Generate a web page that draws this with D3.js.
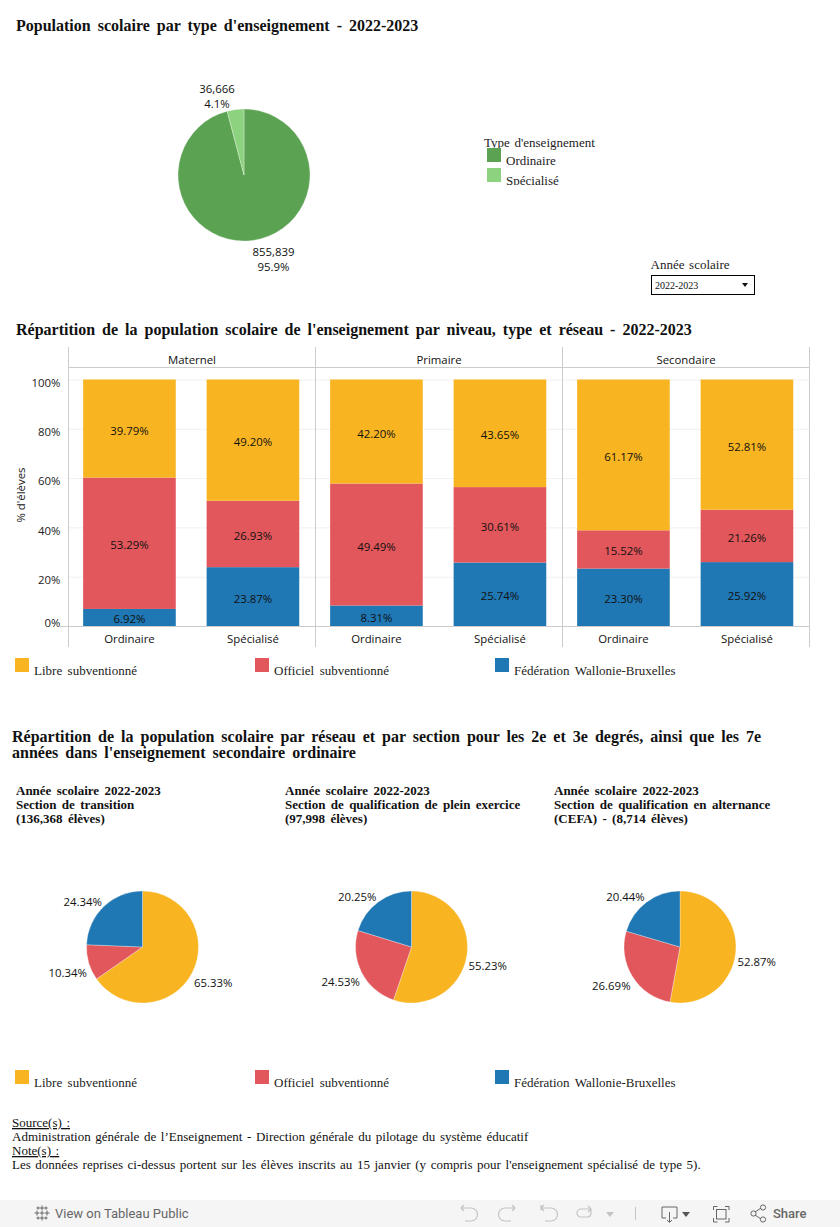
<!DOCTYPE html>
<html lang="fr">
<head>
  <meta charset="UTF-8">
  <title>Population scolaire par type d'enseignement - 2022-2023</title>
  <script src="https://d3js.org/d3.v7.min.js"></script>
  <style>
    html, body { margin: 0; padding: 0; background: #fff; overflow: hidden; }
    svg { display: block; }
    text { font-family: "Liberation Serif", serif; fill: #111; }
    .title { font-weight: bold; font-size: 16px; word-spacing: 3px; }
    .subtitle { font-weight: bold; font-size: 13px; word-spacing: 2.1px; }
    .legend { font-size: 13px; word-spacing: 2.2px; fill: #222; }
    .foot { font-size: 13px; word-spacing: 1.35px; }
    .sans { font-family: "Open Sans", sans-serif; font-size: 11.4px; fill: #111; }
    .bar-axis .domain { display: none; }
    .bar-axis line { stroke: #f0f0f0; }
    .bar-axis text { font-family: "Open Sans", sans-serif; font-size: 11.4px; fill: #222; }
    .tool { font-family: Roboto, sans-serif; font-size: 13px; fill: #666; }
    .icon { fill: none; stroke: #666; stroke-width: 1; }
    .icon-off { fill: none; stroke: #c4c4c4; stroke-width: 1.2; }
  </style>
</head>
<body>
<div id="chart"></div>

<script>
  // Donnees
  const typeLabels = ["Ordinaire", "Spécialisé"];
  const typeCounts = [855839, 36666];
  const typeShares = ["95.9%", "4.1%"];

  const levels = ["Maternel", "Primaire", "Secondaire"];
  const networks = ["Libre subventionné", "Officiel subventionné", "Fédération Wallonie-Bruxelles"];
  const libreValues = [39.79, 49.20, 42.20, 43.65, 61.17, 52.81];
  const officielValues = [53.29, 26.93, 49.49, 30.61, 15.52, 21.26];
  const federationValues = [6.92, 23.87, 8.31, 25.74, 23.30, 25.92];
  const yTicks = [0, 20, 40, 60, 80, 100];

  const sectionHeads = [
    ["Année scolaire 2022-2023", "Section de transition", "(136,368 élèves)"],
    ["Année scolaire 2022-2023", "Section de qualification de plein exercice", "(97,998 élèves)"],
    ["Année scolaire 2022-2023", "Section de qualification en alternance", "(CEFA) - (8,714 élèves)"]
  ];
  const transitionValues = [65.33, 10.34, 24.34];
  const pleinExerciceValues = [55.23, 24.53, 20.25];
  const alternanceValues = [52.87, 26.69, 20.44];

  const typeColors = ["#5ba352", "#8dd27e"];
  const networkColors = ["#f9b521", "#e1575b", "#1f77b4"];

  const svg = d3.select("#chart").append("svg").attr("width", 840).attr("height", 1227);

  function lines(rows, x, y, step, cls) {
    svg.append("g").selectAll("text").data(rows).enter().append("text")
       .attr("class", cls).attr("x", x).attr("y", (d, i) => y + i * step).text(d => d);
  }

  function swatchLegend(names, colors, xs, swatchY, textY) {
    const g = svg.append("g").selectAll("g").data(names).enter().append("g");
    g.append("rect").attr("x", (d, i) => xs[i]).attr("y", swatchY).attr("width", 14).attr("height", 14)
     .attr("fill", (d, i) => colors[i]);
    g.append("text").attr("class", "legend").attr("x", (d, i) => xs[i] + 19).attr("y", textY).text(d => d);
  }

  // Camembert avec depart a midi, sens horaire
  function drawPie(values, colors, cx, cy, r, labels, near, far, left) {
    const pie = d3.pie().sort(null).value(d => d)(values);
    const arc = d3.arc().innerRadius(0).outerRadius(r);
    const g = svg.append("g").attr("transform", `translate(${cx},${cy})`);
    g.selectAll("path").data(pie).enter().append("path")
     .attr("d", arc).attr("fill", (d, i) => colors[i])
     .attr("stroke", "#fff").attr("stroke-opacity", 0.5).attr("stroke-width", 0.6);

    g.selectAll("text").data(pie).enter().append("text")
     .attr("class", "sans")
     .attr("text-anchor", "middle")
     .attr("transform", d => {
       const a = (d.startAngle + d.endAngle) / 2;
       const px = r * Math.sin(a) + (Math.sin(a) < 0 ? -left : 21);
       const py = -r * Math.cos(a) + (Math.cos(a) < 0 ? near : far);
       return `translate(${px},${py})`;
     })
     .each(function(d, i) {
       const rows = labels[i];
       d3.select(this).selectAll("tspan").data(rows).enter().append("tspan")
         .attr("x", 0)
         .attr("y", (t, k) => (k - (rows.length - 1) / 2) * 15.3 + 4)
         .text(t => t);
     });
  }

  // ---- Section 1 : type d'enseignement
  lines(["Population scolaire par type d'enseignement - 2022-2023"], 16, 31, 0, "title");
  drawPie(typeCounts, typeColors, 244, 175, 66,
          typeCounts.map((d, i) => [d3.format(",")(d), typeShares[i]]), 19, -13, 18.5);

  svg.append("text").attr("class", "legend").attr("x", 484).attr("y", 147)
     .style("word-spacing", "1.4px").text("Type d'enseignement");
  svg.append("clipPath").attr("id", "legend-clip").append("rect")
     .attr("x", 480).attr("y", 148).attr("width", 120).attr("height", 37);
  const typeLegend = svg.append("g").attr("clip-path", "url(#legend-clip)");
  typeLabels.forEach((d, i) => {
    typeLegend.append("rect").attr("x", 487).attr("y", 148 + i * 20).attr("width", 14).attr("height", 14)
              .attr("fill", typeColors[i]);
    typeLegend.append("text").attr("class", "legend").attr("x", 506).attr("y", 165 + i * 20).text(d);
  });

  // Filtre annee
  svg.append("text").attr("class", "legend").attr("x", 650.5).attr("y", 269)
     .style("word-spacing", "1.4px").text("Année scolaire");
  svg.append("rect").attr("x", 651.5).attr("y", 275.5).attr("width", 103).attr("height", 19)
     .attr("fill", "#fff").attr("stroke", "#000").attr("stroke-width", 1);
  svg.append("text").attr("x", 655).attr("y", 289).style("font-size", "10px").text("2022-2023");
  svg.append("path").attr("d", "M742,283h6l-3,4z").attr("fill", "#111");

  // ---- Section 2 : barres empilees
  lines(["Répartition de la population scolaire de l'enseignement par niveau, type et réseau - 2022-2023"],
        16, 335, 0, "title");

  const rows = libreValues.map((d, i) => ({
    level: levels[Math.floor(i / 2)],
    type: typeLabels[i % 2],
    libre: d,
    officiel: officielValues[i],
    federation: federationValues[i]
  }));

  const x0 = d3.scaleBand().domain(levels).range([68.5, 809.5]);
  const x1 = d3.scaleBand().domain(typeLabels).range([-0.8, x0.bandwidth() - 0.8]).paddingInner(0.25).paddingOuter(0.125);
  const y = d3.scaleLinear().domain([0, 100]).range([626, 379.5]);

  const stack = d3.stack().keys(["federation", "officiel", "libre"]);
  const stackColors = [networkColors[2], networkColors[1], networkColors[0]];

  // grille + graduations
  const yAxis = svg.append("g").attr("class", "bar-axis").attr("transform", "translate(68.5,0)")
     .call(d3.axisLeft(y).tickValues(yTicks).tickFormat(d => d + "%").tickSize(-741).tickPadding(8));
  yAxis.selectAll("text").attr("dy", d => d === 0 ? "0em" : "0.58em");

  svg.append("text").attr("class", "sans").attr("text-anchor", "middle")
     .attr("transform", "translate(25,495) rotate(-90)").text("% d'élèves");

  stack(rows).forEach((serie, s) => {
    const g = svg.append("g");
    g.selectAll("rect").data(serie).enter().append("rect")
     .attr("x", d => x0(d.data.level) + x1(d.data.type))
     .attr("y", d => y(d[1]))
     .attr("width", x1.bandwidth())
     .attr("height", d => y(d[0]) - y(d[1]))
     .attr("fill", stackColors[s]);
    g.selectAll("text").data(serie).enter().append("text")
     .attr("class", "sans").attr("text-anchor", "middle")
     .attr("x", d => x0(d.data.level) + x1(d.data.type) + x1.bandwidth() / 2)
     .attr("y", d => y((d[0] + d[1]) / 2) + 6)
     .text(d => (d[1] - d[0]).toFixed(2) + "%");
  });

  // cadre des panneaux
  const frame = svg.append("g").attr("stroke", "#ccc").attr("stroke-width", 1);
  frame.selectAll("line.v").data(x0.domain().concat("end")).enter().append("line")
       .attr("x1", d => d === "end" ? x0.range()[1] : x0(d))
       .attr("x2", d => d === "end" ? x0.range()[1] : x0(d))
       .attr("y1", 347).attr("y2", 647);
  frame.append("line").attr("x1", 68.5).attr("x2", 809.5).attr("y1", 367.5).attr("y2", 367.5);
  frame.append("line").attr("x1", 60).attr("x2", 809.5).attr("y1", 626.5).attr("y2", 626.5);

  svg.append("g").selectAll("text").data(levels).enter().append("text")
     .attr("class", "sans").attr("text-anchor", "middle")
     .attr("x", d => x0(d) + x0.bandwidth() / 2).attr("y", 364).text(d => d);

  svg.append("g").selectAll("text").data(rows).enter().append("text")
     .attr("class", "sans").attr("text-anchor", "middle")
     .attr("x", d => x0(d.level) + x1(d.type) + x1.bandwidth() / 2).attr("y", 643).text(d => d.type);

  swatchLegend(networks, networkColors, [15, 255, 495], 658, 675);

  // ---- Section 3 : sections
  lines(["Répartition de la population scolaire par réseau et par section pour les 2e et 3e degrés, ainsi que les 7e",
         "années dans l'enseignement secondaire ordinaire"], 12, 742, 16, "title");

  [16, 285, 554].forEach((hx, i) => lines(sectionHeads[i], hx, 795, 14, "subtitle"));

  [transitionValues, pleinExerciceValues, alternanceValues].forEach((values, i) => {
    drawPie(values, networkColors, [142.5, 411.5, 680][i], 947, 56,
            values.map(d => [d.toFixed(2) + "%"]), 10, -5, 21);
  });

  swatchLegend(networks, networkColors, [15, 255, 495], 1070, 1087);

  // ---- Notes
  const foot = svg.append("g");
  [["Source(s) :", true],
   ["Administration générale de l’Enseignement - Direction générale du pilotage du système éducatif", false],
   ["Note(s) :", true],
   ["Les données reprises ci-dessus portent sur les élèves inscrits au 15 janvier (y compris pour l'enseignement spécialisé de type 5).", false]
  ].forEach((d, i) => {
    foot.append("text").attr("class", "foot").attr("x", 12).attr("y", 1127 + i * 14)
        .style("text-decoration", d[1] ? "underline" : null).text(d[0]);
  });

  // ---- Barre d'outils Tableau
  const bar = svg.append("g");
  bar.append("rect").attr("x", 0).attr("y", 1200).attr("width", 840).attr("height", 27).attr("fill", "#f5f5f5");
  bar.append("path").attr("class", "icon")
     .attr("d", "M42,1205.5v5M39.5,1208h5M42,1215.5v5M39.5,1218h5M37,1210.5v5M34.5,1213h5M47,1210.5v5M44.5,1213h5M38,1206.5v3M36.5,1208h3M46,1206.5v3M44.5,1208h3M38,1216.5v3M36.5,1218h3M46,1216.5v3M44.5,1218h3M42,1211v4M40,1213h4");
  bar.append("text").attr("class", "tool").attr("x", 55).attr("y", 1218).text("View on Tableau Public");

  const offIcons = [
    "M461,1208h10a4.5,4.5 0 0 1 0,13h-6M461,1208l3,-3M461,1208l3,3",
    "M515,1208h-10a4.5,4.5 0 0 0 0,13h6M515,1208l-3,-3M515,1208l-3,3",
    "M541,1205v5M541,1208h10a4.5,4.5 0 0 1 0,13h-6M541,1208l3,-3M541,1208l3,3",
    "M591,1209h-10a4,4 0 0 0 0,8h7a4,4 0 0 0 3,-3v-5M591,1209l-3,-3M591,1209l-3,3"
  ];
  bar.selectAll("path.off").data(offIcons).enter().append("path").attr("class", "icon-off").attr("d", d => d);
  bar.append("path").attr("d", "M606,1212h8l-4,5z").attr("fill", "#c4c4c4");
  bar.append("line").attr("x1", 635.5).attr("x2", 635.5).attr("y1", 1207).attr("y2", 1220).attr("stroke", "#c4c4c4");

  bar.append("path").attr("class", "icon").attr("d", "M666,1218h-4v-11h15v11h-4M669.5,1212v10M667,1220l2.5,2.5l2.5,-2.5");
  bar.append("path").attr("d", "M682,1212h8l-4,5z").attr("fill", "#555");
  bar.append("path").attr("class", "icon").attr("d", "M713.5,1210v-3.5h4M725,1206.5h4v3.5M729,1218v4h-4M717.5,1222h-4v-4");
  bar.append("rect").attr("class", "icon").attr("x", 716.5).attr("y", 1209.5).attr("width", 9.5).attr("height", 9.5);
  bar.append("path").attr("class", "icon").attr("d", "M755,1212l6,-4M755,1215l6,4");
  bar.selectAll("circle").data([[753.5, 1213.5], [763, 1207.5], [763, 1219.5]]).enter().append("circle")
     .attr("class", "icon").attr("cx", d => d[0]).attr("cy", d => d[1]).attr("r", 2.6);
  bar.append("text").attr("class", "tool").attr("x", 773).attr("y", 1218).style("font-weight", 500).text("Share");
</script>
</body>
</html>
